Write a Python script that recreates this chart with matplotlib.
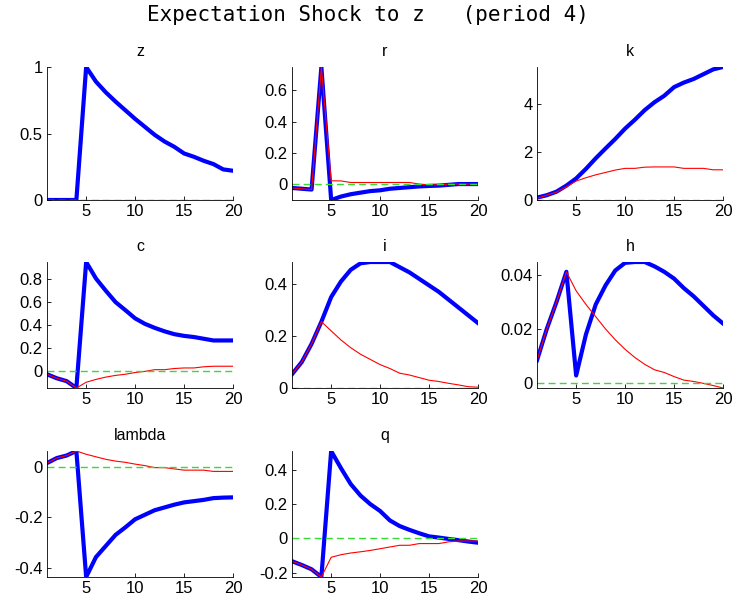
import matplotlib
matplotlib.use("Agg")
import matplotlib.pyplot as plt
from matplotlib.ticker import FuncFormatter

plt.rcParams["font.family"] = ["Liberation Sans", "DejaVu Sans"]

periods = list(range(1, 21))

# blue = expected shock, red = unexpected / news reversal
z_blue = [0, 0, 0, 0, 1.0, 0.89, 0.81, 0.74, 0.675, 0.61, 0.55, 0.49, 0.44, 0.40,
          0.35, 0.325, 0.295, 0.27, 0.23, 0.22]
z_red = [0] * 20

r_blue = [-0.025, -0.03, -0.035, 0.749, -0.102, -0.08, -0.065, -0.055, -0.045, -0.04,
          -0.03, -0.025, -0.02, -0.015, -0.012, -0.01, -0.005, 0.0, 0.0, 0.0]
r_red = [-0.025, -0.03, -0.035, 0.749, 0.021, 0.02, 0.01, 0.01, 0.01, 0.01,
         0.01, 0.01, 0.01, 0.0, -0.005, -0.005, 0.0, 0.0, 0.0, 0.0]

k_blue = [0.1, 0.2, 0.35, 0.6, 0.9, 1.3, 1.74, 2.15, 2.55, 2.98, 3.35, 3.75, 4.08,
          4.35, 4.71, 4.9, 5.05, 5.25, 5.45, 5.55]
k_red = [0.07, 0.2, 0.33, 0.55, 0.79, 0.93, 1.05, 1.15, 1.25, 1.32, 1.32, 1.37, 1.38,
         1.38, 1.38, 1.32, 1.32, 1.32, 1.26, 1.26]

c_blue = [-0.03, -0.065, -0.09, -0.15, 0.95, 0.806, 0.70, 0.60, 0.53, 0.458, 0.41,
          0.375, 0.345, 0.32, 0.305, 0.295, 0.28, 0.265, 0.265, 0.265]
c_red = [-0.03, -0.065, -0.09, -0.15, -0.10, -0.075, -0.055, -0.04, -0.03, -0.015,
         -0.005, 0.01, 0.01, 0.02, 0.025, 0.025, 0.035, 0.04, 0.04, 0.04]

i_blue = [0.053, 0.1, 0.17, 0.255, 0.35, 0.41, 0.455, 0.48, 0.485, 0.485, 0.485,
          0.465, 0.445, 0.42, 0.395, 0.37, 0.34, 0.31, 0.28, 0.25]
i_red = [0.053, 0.1, 0.17, 0.255, 0.22, 0.185, 0.155, 0.13, 0.11, 0.09, 0.075,
         0.057, 0.05, 0.04, 0.03, 0.025, 0.018, 0.012, 0.005, 0.003]

h_blue = [0.0085, 0.02, 0.03, 0.041, 0.0029, 0.018, 0.029, 0.036, 0.0415, 0.0443,
          0.0446, 0.0446, 0.043, 0.041, 0.0385, 0.035, 0.032, 0.0285, 0.025, 0.022]
h_red = [0.0085, 0.02, 0.03, 0.041, 0.034, 0.029, 0.0245, 0.02, 0.016, 0.0125,
         0.0095, 0.007, 0.005, 0.004, 0.0025, 0.0012, 0.0007, 0.0, -0.0008, -0.0017]

lambda_blue = [0.015, 0.035, 0.045, 0.063, -0.437, -0.358, -0.314, -0.27, -0.24,
               -0.208, -0.19, -0.172, -0.161, -0.15, -0.141, -0.136, -0.131, -0.124,
               -0.122, -0.121]
lambda_red = [0.015, 0.035, 0.045, 0.063, 0.05, 0.04, 0.03, 0.023, 0.018, 0.011,
              0.005, -0.003, -0.003, -0.008, -0.013, -0.013, -0.013, -0.018, -0.018,
              -0.018]

q_blue = [-0.133, -0.155, -0.18, -0.225, 0.51, 0.41, 0.317, 0.25, 0.2, 0.16, 0.105,
          0.072, 0.05, 0.03, 0.012, 0.005, -0.003, -0.01, -0.018, -0.025]
q_red = [-0.133, -0.155, -0.18, -0.225, -0.11, -0.095, -0.085, -0.078, -0.07, -0.06,
         -0.05, -0.04, -0.04, -0.03, -0.03, -0.03, -0.02, -0.015, -0.015, -0.015]

panel_names = ["z", "r", "k", "c", "i", "h", "lambda", "q"]
panel_blue = [z_blue, r_blue, k_blue, c_blue, i_blue, h_blue, lambda_blue, q_blue]
panel_red = [z_red, r_red, k_red, c_red, i_red, h_red, lambda_red, q_red]
panel_yticks = [
    [0, 0.5, 1],
    [0, 0.2, 0.4, 0.6],
    [0, 2, 4],
    [0, 0.2, 0.4, 0.6, 0.8],
    [0, 0.2, 0.4],
    [0, 0.02, 0.04],
    [-0.4, -0.2, 0],
    [-0.2, 0, 0.2, 0.4],
]

W, H = 735, 608
col_left = [47, 292, 537]
col_width = 186
row_box = [(67, 200), (262, 388), (451, 577)]

fig = plt.figure(figsize=(W / 100, H / 100), dpi=100)
fig.text(0.5, 1 - 21 / H, "Expectation Shock to z   (period 4)",
         ha="center", va="baseline", fontsize=15, family="DejaVu Sans Mono")

for idx, name in enumerate(panel_names):
    row, col = divmod(idx, 3)
    top, bottom = row_box[row]
    ax = fig.add_axes([col_left[col] / W, 1 - bottom / H,
                       col_width / W, (bottom - top) / H])
    blue = panel_blue[idx]
    red = panel_red[idx]
    ax.plot(periods, blue, color="#0000ff", lw=3.0, solid_joinstyle="round")
    ax.plot(periods, red, color="#ff0000", lw=0.8)
    ax.plot(periods, [0] * len(periods), color="#33dd33", lw=1.0,
            linestyle=(0, (5, 3)))
    lo = min(min(blue), min(red), 0)
    hi = max(max(blue), max(red), 0)
    ax.set_xlim(1, 20)
    ax.set_ylim(lo, hi)
    ax.set_xticks([5, 10, 15, 20])
    ax.set_yticks(panel_yticks[idx])
    ax.yaxis.set_major_formatter(FuncFormatter(lambda v, p: "%g" % round(v, 4)))
    for side in ("top", "right"):
        ax.spines[side].set_visible(False)
    for side in ("left", "bottom"):
        ax.spines[side].set_linewidth(0.6)
    ax.tick_params(direction="in", length=3, width=0.6, labelsize=12, pad=3)
    ax.set_title(name, fontsize=11.5, pad=8)

fig.savefig("out.png", dpi=100)
